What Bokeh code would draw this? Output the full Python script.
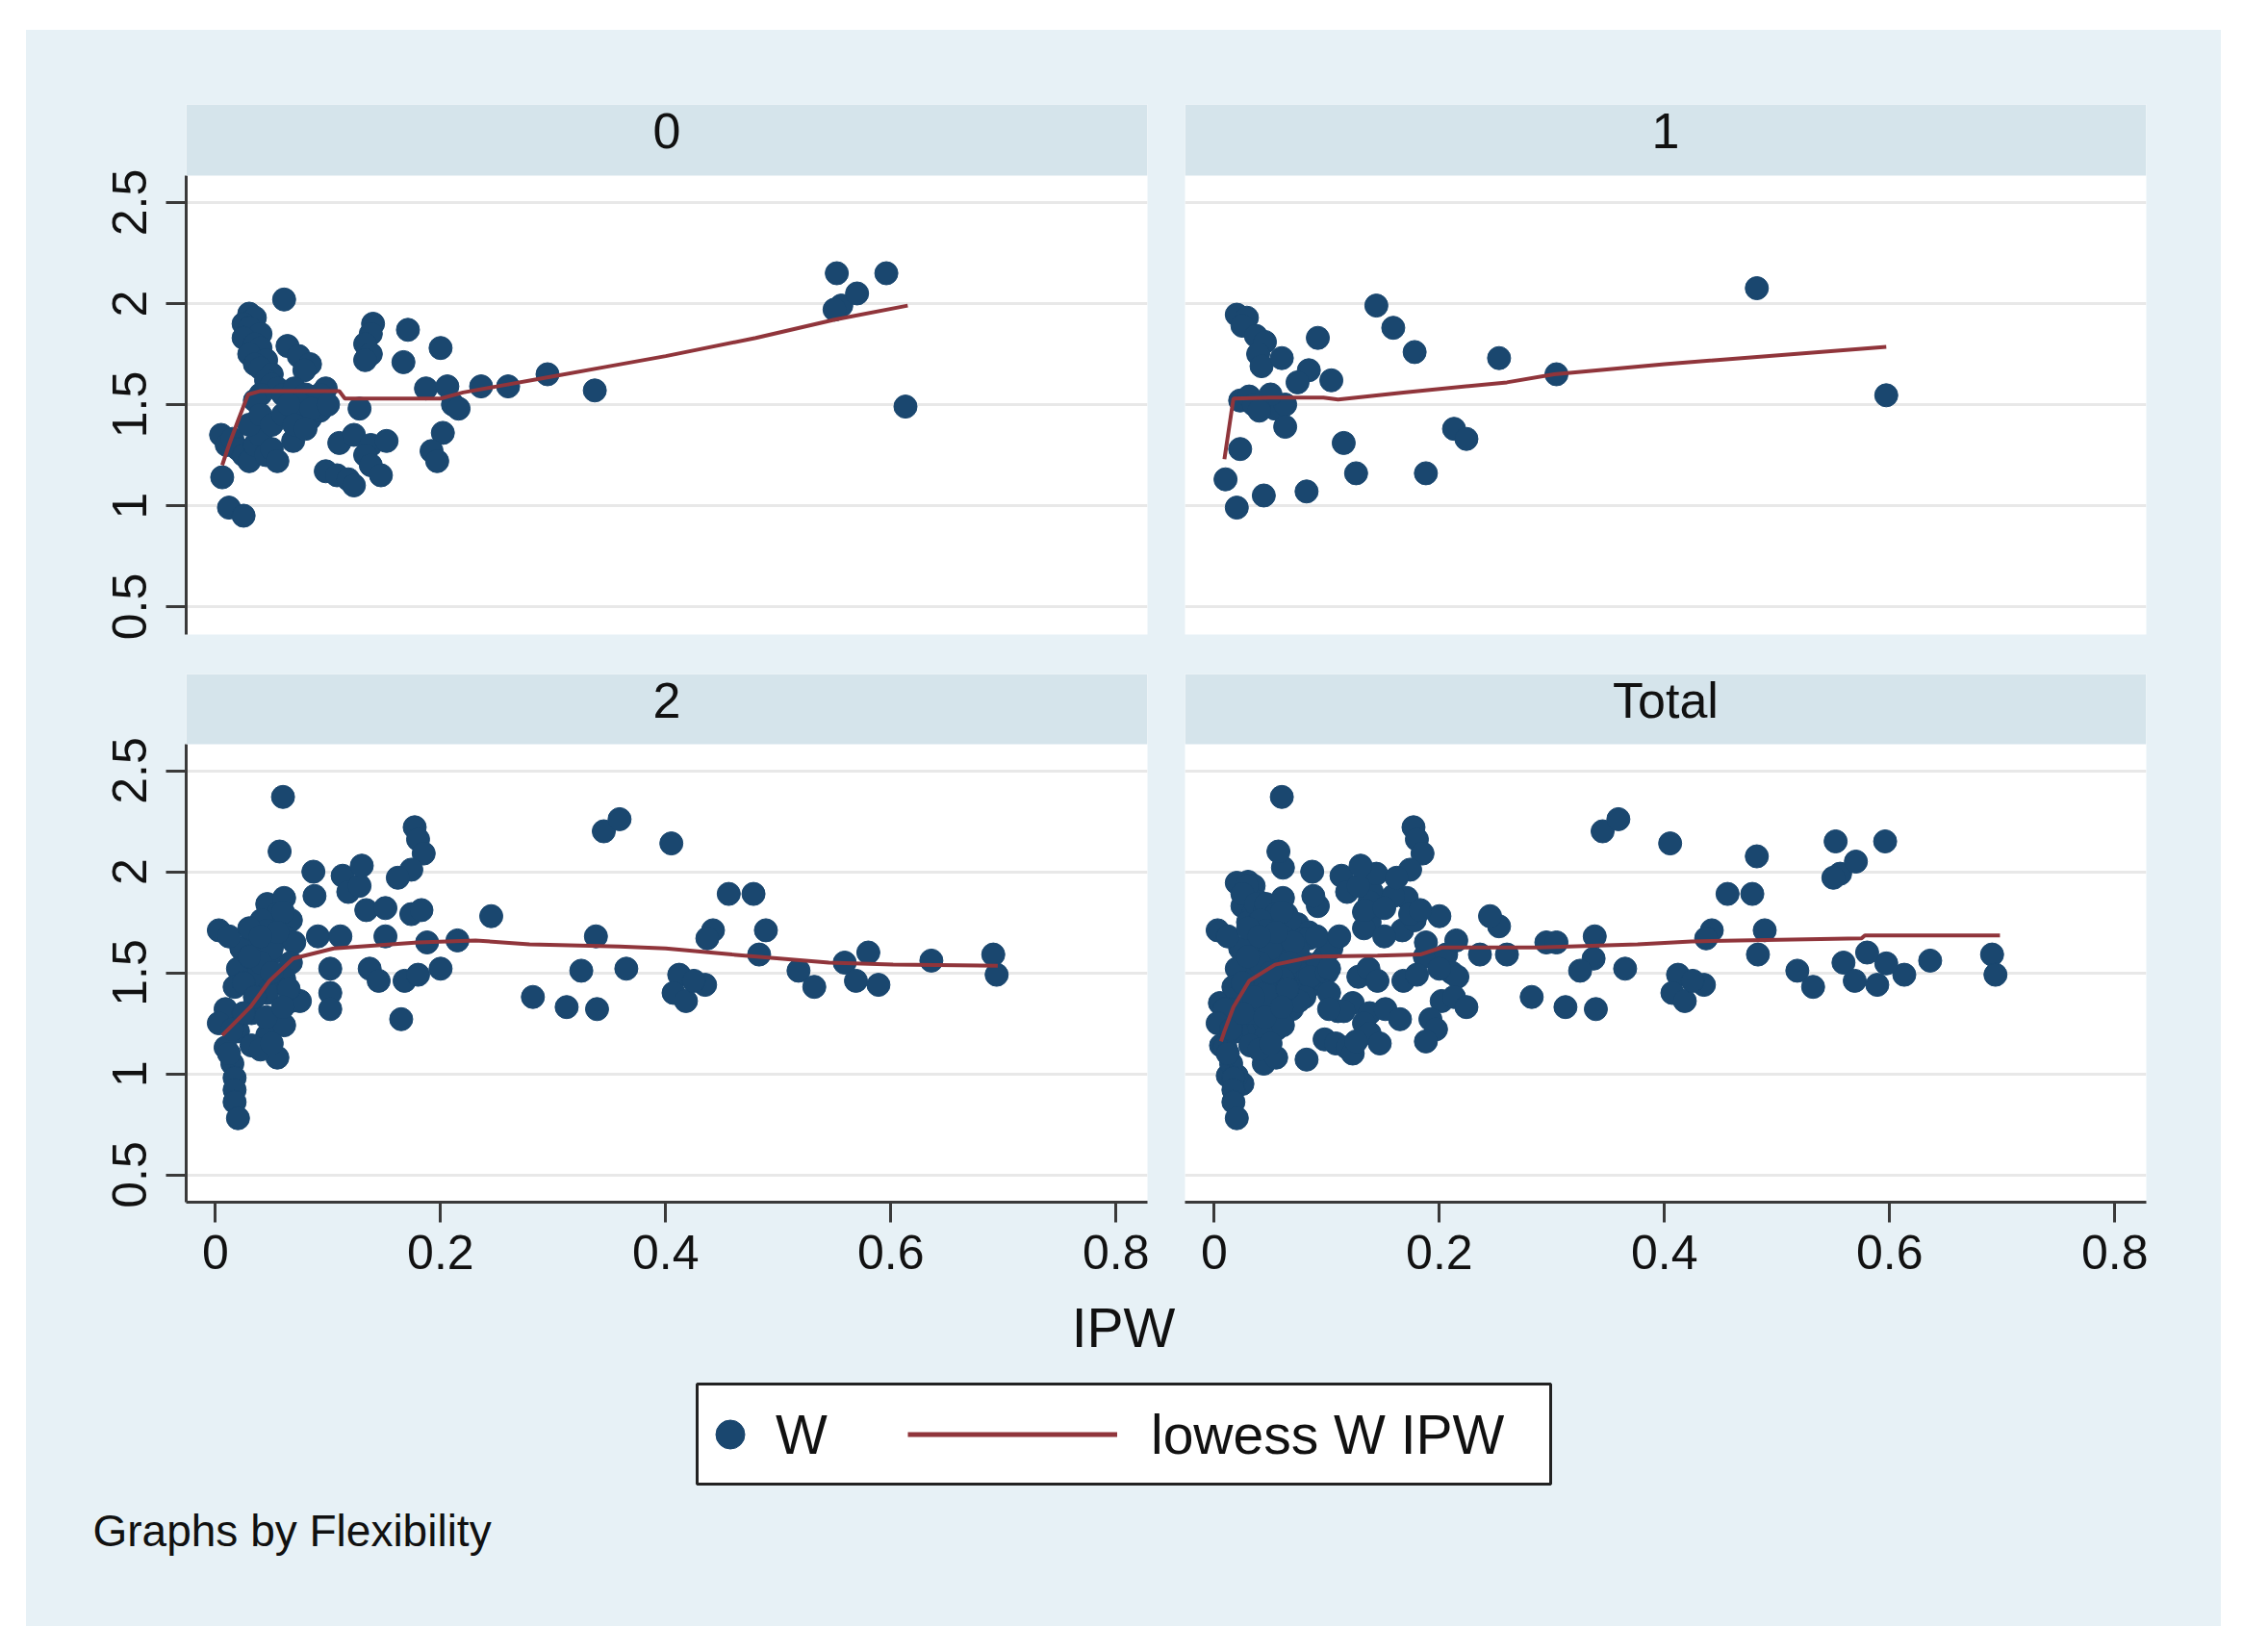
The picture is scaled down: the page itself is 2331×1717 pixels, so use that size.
from bokeh.plotting import figure
from bokeh.layouts import row, column
from bokeh.models import Range1d, FixedTicker, BoxAnnotation, Label, Legend, LegendItem, Spacer
from bokeh.embed import file_html
from bokeh.resources import INLINE

# ---------------- data ----------------
PANEL_NAMES = ["0", "1", "2", "Total"]

X_TICKS = [0, 0.2, 0.4, 0.6, 0.8]
X_TICK_LABELS = ["0", "0.2", "0.4", "0.6", "0.8"]
Y_TICKS = [0.5, 1, 1.5, 2, 2.5]
Y_TICK_LABELS = ["0.5", "1", "1.5", "2", "2.5"]

# Flexibility = 0
X0 = [0.061, 0.030, 0.035, 0.025, 0.030, 0.040, 0.025, 0.035, 0.040, 0.030,
      0.045, 0.035, 0.040, 0.050, 0.045, 0.050, 0.055, 0.060, 0.040, 0.035,
      0.064, 0.074, 0.084, 0.079, 0.098, 0.093, 0.140, 0.138, 0.133, 0.138, 0.133,
      0.171, 0.167, 0.200, 0.187, 0.206, 0.211, 0.216, 0.236, 0.260, 0.295, 0.337,
      0.202, 0.192, 0.197, 0.128, 0.110, 0.123, 0.138, 0.133, 0.138, 0.152,
      0.098, 0.108, 0.118, 0.123, 0.147, 0.069, 0.084, 0.093,
      0.005, 0.010, 0.015, 0.020, 0.025, 0.030, 0.035, 0.040, 0.045, 0.050,
      0.055, 0.030, 0.040, 0.050, 0.060, 0.006, 0.012, 0.025,
      0.070, 0.080, 0.090, 0.075, 0.085, 0.065, 0.100, 0.070, 0.080,
      0.552, 0.556, 0.570, 0.596, 0.613, 0.550]
Y0 = [2.02, 1.95, 1.93, 1.90, 1.88, 1.85, 1.83, 1.80, 1.78, 1.75,
      1.72, 1.70, 1.68, 1.65, 1.62, 1.60, 1.58, 1.55, 1.55, 1.52,
      1.79, 1.74, 1.70, 1.67, 1.58, 1.55, 1.90, 1.85, 1.80, 1.75, 1.72,
      1.87, 1.71, 1.78, 1.58, 1.59, 1.50, 1.48, 1.59, 1.59, 1.65, 1.57,
      1.36, 1.27, 1.22, 1.48, 1.31, 1.35, 1.30, 1.25, 1.20, 1.32,
      1.17, 1.15, 1.13, 1.10, 1.15, 1.32, 1.43, 1.47,
      1.35, 1.30, 1.33, 1.28, 1.25, 1.22, 1.30, 1.35, 1.25, 1.28,
      1.22, 1.40, 1.45, 1.40, 1.45, 1.14, 0.99, 0.95,
      1.58, 1.55, 1.52, 1.50, 1.48, 1.50, 1.50, 1.40, 1.38,
      2.15, 1.99, 2.05, 2.15, 1.49, 1.97]

# Flexibility = 1
X1 = [0.020, 0.029, 0.025, 0.037, 0.045, 0.039, 0.042, 0.060, 0.092, 0.084,
      0.074, 0.104, 0.144, 0.159, 0.178, 0.253, 0.304,
      0.023, 0.031, 0.045, 0.054, 0.063, 0.063, 0.023, 0.115, 0.213,
      0.224, 0.010, 0.044, 0.020, 0.082, 0.126, 0.188, 0.482, 0.597,
      0.035, 0.050, 0.040]
Y1 = [1.945, 1.93, 1.89, 1.84, 1.81, 1.75, 1.69, 1.73, 1.83, 1.67,
      1.61, 1.62, 1.99, 1.88, 1.76, 1.73, 1.65,
      1.52, 1.54, 1.51, 1.48, 1.50, 1.39, 1.28, 1.31, 1.38,
      1.33, 1.13, 1.05, 0.99, 1.07, 1.16, 1.16, 2.076, 1.546,
      1.50, 1.55, 1.47]

# Flexibility = 2
X2 = [0.060, 0.057, 0.087, 0.088, 0.113, 0.118, 0.128, 0.130, 0.177, 0.180,
      0.185, 0.174, 0.162, 0.134, 0.151, 0.174, 0.183, 0.245, 0.091, 0.111,
      0.151, 0.188, 0.215, 0.102, 0.102, 0.102, 0.137, 0.145, 0.168, 0.180,
      0.200, 0.165, 0.282, 0.312, 0.339, 0.325, 0.338, 0.365, 0.345, 0.359,
      0.405,
      0.456, 0.478, 0.442, 0.437, 0.489, 0.483, 0.412, 0.407, 0.418, 0.435,
      0.425, 0.518, 0.532, 0.559, 0.580, 0.569, 0.589, 0.636, 0.691, 0.694,
      0.046, 0.061, 0.055, 0.067, 0.041, 0.046, 0.061, 0.032, 0.070, 0.023,
      0.049, 0.067, 0.020, 0.038, 0.061, 0.017, 0.046, 0.067, 0.075, 0.009,
      0.032, 0.055, 0.003, 0.020, 0.046, 0.061, 0.009, 0.032, 0.055, 0.015,
      0.017, 0.017, 0.017, 0.020, 0.003, 0.012,
      0.030, 0.050, 0.040, 0.025, 0.035, 0.045, 0.015, 0.060, 0.055, 0.040,
      0.030, 0.050, 0.065, 0.060, 0.025, 0.012, 0.040, 0.050]
Y2 = [2.37, 2.10, 2.00, 1.88, 1.98, 1.90, 1.93, 2.03, 2.22, 2.16,
      2.09, 2.01, 1.97, 1.81, 1.82, 1.79, 1.81, 1.78, 1.68, 1.68,
      1.68, 1.65, 1.66, 1.52, 1.40, 1.32, 1.52, 1.46, 1.46, 1.49,
      1.52, 1.27, 1.38, 1.33, 1.32, 1.51, 1.68, 1.52, 2.20, 2.26,
      2.14,
      1.89, 1.89, 1.71, 1.67, 1.71, 1.59, 1.49, 1.40, 1.36, 1.44,
      1.46, 1.51, 1.43, 1.55, 1.60, 1.46, 1.44, 1.56, 1.59, 1.49,
      1.84, 1.87, 1.79, 1.76, 1.76, 1.71, 1.68, 1.65, 1.65, 1.62,
      1.59, 1.55, 1.52, 1.49, 1.47, 1.43, 1.40, 1.36, 1.36, 1.32,
      1.30, 1.28, 1.25, 1.21, 1.19, 1.24, 1.13, 1.14, 1.08, 1.05,
      0.98, 0.92, 0.86, 0.78, 1.71, 1.68,
      1.72, 1.62, 1.55, 1.45, 1.38, 1.28, 1.22, 1.80, 1.70, 1.68,
      1.58, 1.50, 1.42, 1.33, 1.30, 1.10, 1.12, 1.15]

# lowess W IPW curves
LX0 = [0.006, 0.012, 0.020, 0.029, 0.040, 0.070, 0.110, 0.115, 0.200, 0.220,
       0.250, 0.290, 0.350, 0.400, 0.480, 0.550, 0.615]
LY0 = [1.20, 1.30, 1.42, 1.55, 1.567, 1.567, 1.567, 1.53, 1.53, 1.56,
       1.59, 1.63, 1.69, 1.74, 1.83, 1.92, 1.99]
LX1 = [0.009, 0.017, 0.050, 0.097, 0.110, 0.168, 0.260, 0.302, 0.400, 0.597]
LY1 = [1.23, 1.53, 1.535, 1.535, 1.525, 1.56, 1.61, 1.65, 1.70, 1.786]
LX2 = [0.006, 0.031, 0.048, 0.069, 0.105, 0.180, 0.231, 0.279, 0.359, 0.400,
       0.459, 0.545, 0.602, 0.695]
LY2 = [1.19, 1.33, 1.46, 1.57, 1.62, 1.65, 1.66, 1.64, 1.63, 1.62,
       1.59, 1.55, 1.54, 1.535]
LXT = [0.006, 0.009, 0.017, 0.031, 0.054, 0.088, 0.145, 0.183, 0.202, 0.288,
       0.376, 0.424, 0.575, 0.578, 0.698]
LYT = [1.16, 1.21, 1.33, 1.46, 1.54, 1.58, 1.585, 1.59, 1.625, 1.625,
       1.64, 1.655, 1.67, 1.685, 1.685]

# ---------------- styles ----------------
BG = "#e7f1f6"
STRIP = "#d5e4eb"
NAVY = "#1a476f"
MAROON = "#90353b"
AXIS = "#3a3a3a"
GRID = "#e8e8e8"
TXT = "#111111"
FONT = "Liberation Sans"

X_START, X_END = -0.026, 0.828


def make_panel(name, xs, ys, lx, ly, col, rw):
    top = rw == 0
    left = col == 0
    if top:
        y0, y1, strip_b, label_y = 0.3619, 2.9857, 2.6333, 2.8548
    else:
        y0, y1, strip_b, label_y = 0.3643, 2.9786, 2.631, 2.8476
    p = figure(width=1184 if left else 1097, height=649 if top else 665,
               x_range=Range1d(X_START, X_END), y_range=Range1d(y0, y1),
               x_axis_location=None if top else "below",
               y_axis_location="left" if left else None,
               toolbar_location=None, output_backend="svg", title=None,
               min_border_left=166 if left else 20,
               min_border_right=19 if left else 78,
               min_border_top=77 if top else 20,
               min_border_bottom=21 if top else 96)
    p.background_fill_color = "white"
    p.border_fill_color = BG
    p.outline_line_color = None
    p.xgrid.visible = False
    p.ygrid.ticker = FixedTicker(ticks=Y_TICKS)
    p.ygrid.grid_line_color = GRID
    p.ygrid.grid_line_width = 3

    for ax in list(p.xaxis) + list(p.yaxis):
        ax.axis_line_color = AXIS
        ax.axis_line_width = 3
        ax.major_tick_line_color = AXIS
        ax.major_tick_line_width = 3
        ax.major_tick_out = 21
        ax.major_tick_in = 0
        ax.minor_tick_out = 0
        ax.minor_tick_in = 0
        ax.major_label_text_font = FONT
        ax.major_label_text_font_size = "50px"
        ax.major_label_text_color = TXT
    for ax in p.xaxis:
        ax.ticker = FixedTicker(ticks=X_TICKS)
        ax.major_label_overrides = dict(zip(X_TICKS, X_TICK_LABELS))
        ax.major_label_standoff = 13
    for ax in p.yaxis:
        ax.ticker = FixedTicker(ticks=Y_TICKS)
        ax.major_label_overrides = dict(zip(Y_TICKS, Y_TICK_LABELS))
        ax.major_label_orientation = "vertical"
        ax.major_label_standoff = 20
        ax.bounds = (y0, strip_b)

    p.add_layout(BoxAnnotation(bottom=strip_b, fill_color=STRIP, fill_alpha=1.0,
                               line_color=None))
    p.add_layout(Label(x=(X_START + X_END) / 2, y=label_y, text=name,
                       text_align="center", text_baseline="middle",
                       text_font=FONT, text_font_size="52px", text_color=TXT))

    p.scatter(xs, ys, size=24, fill_color=NAVY, line_color=NAVY, line_width=1)
    p.line(lx, ly, line_color=MAROON, line_width=4)
    return p


p0 = make_panel(PANEL_NAMES[0], X0, Y0, LX0, LY0, 0, 0)
p1 = make_panel(PANEL_NAMES[1], X1, Y1, LX1, LY1, 1, 0)
p2 = make_panel(PANEL_NAMES[2], X2, Y2, LX2, LY2, 0, 1)
pT = make_panel(PANEL_NAMES[3], X0 + X1 + X2, Y0 + Y1 + Y2, LXT, LYT, 1, 1)

# ---------------- bottom strip: axis title, legend, note ----------------
b = figure(width=2281, height=345, x_range=Range1d(27, 2308), y_range=Range1d(1690, 1345),
           x_axis_location=None, y_axis_location=None, toolbar_location=None,
           output_backend="svg", title=None, min_border=0)
b.background_fill_color = BG
b.border_fill_color = BG
b.outline_line_color = None
b.xgrid.visible = False
b.ygrid.visible = False

b.quad(left=[724], right=[1611], top=[1438], bottom=[1542],
       fill_color="white", line_color="#222222", line_width=3)

# legend proxies (a single point placed off the visible area)
rW = b.scatter(x=[0], y=[0], fill_color=NAVY, line_color=NAVY)
rL = b.line(x=[0, 1], y=[0, 0], line_color=MAROON, line_width=5)

common = dict(orientation="horizontal", padding=0, margin=0, spacing=0,
              border_line_color=None, background_fill_alpha=0,
              label_text_font=FONT, label_text_font_size="57px",
              label_text_color=TXT, glyph_height=75, label_height=75)
legA = Legend(items=[LegendItem(label="W", renderers=[rW])],
              location=(694, 162), glyph_width=75, label_standoff=10, **common)
legB = Legend(items=[LegendItem(label="lowess W IPW", renderers=[rL])],
              location=(916, 162), glyph_width=218, label_standoff=35, **common)
b.add_layout(legA)
b.add_layout(legB)

b.add_layout(Label(x=1167, y=1379, text="IPW", text_align="center",
                   text_baseline="middle", text_font=FONT,
                   text_font_size="57px", text_color=TXT))
b.add_layout(Label(x=96, y=1590, text="Graphs by Flexibility", text_align="left",
                   text_baseline="middle", text_font=FONT,
                   text_font_size="46px", text_color=TXT))

grid = column(row(p0, p1), row(p2, pT), b, styles={"background-color": BG})
layout = row(Spacer(width=27, height=1690),
             column(Spacer(width=2281, height=31), grid))

open("out.html", "w").write(file_html(layout, INLINE))
